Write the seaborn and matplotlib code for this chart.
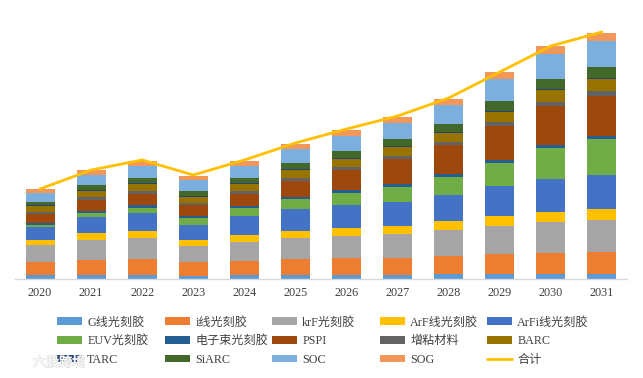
import matplotlib
matplotlib.use("Agg")
import matplotlib.pyplot as plt
import matplotlib.patheffects as pe
import numpy as np
import seaborn as sns

years = [str(y) for y in range(2020, 2032)]
g_line = [4, 4, 4, 3, 4, 4, 4, 4, 5, 5, 5, 5]
i_line = [13, 15, 16, 14.3, 14, 16.3, 17.3, 17.3, 18, 20, 21.3, 22]
krf = [16.7, 20, 21, 15.7, 19, 20.7, 21.7, 23.7, 26, 28, 30.7, 32]
arf = [5.3, 7, 7, 6, 7, 7, 8, 8, 9, 10, 10, 11]
arfi = [12.7, 16, 18, 15, 19, 21.7, 22.7, 24, 26, 30, 33, 34]
euv = [2.3, 4, 5, 7, 8, 10.3, 12.3, 15, 18, 23, 31, 35.7]
ebeam = [2.3, 2.3, 3, 2, 2.3, 2.3, 3, 3.3, 3, 3.3, 3.3, 3.3]
pspi = [8.7, 10.7, 11, 10.7, 11.7, 15.3, 20.3, 24.7, 29, 34, 38.3, 40]
adhesion = [2, 3, 3, 2.3, 3, 3, 2.7, 3, 3.3, 3.7, 4, 5]
barc = [6, 6, 7, 6, 7, 8.3, 7.7, 9, 8.3, 10, 12.3, 12]
tarc = [1, 0.7, 1, 1, 0.7, 0.7, 1, 0.7, 1, 1.3, 1, 0.7]
siarc = [3, 5.3, 5, 5, 5.3, 6.3, 7.3, 7.3, 8.3, 9.7, 10, 11.3]
soc = [9, 10, 12, 11, 12, 13.7, 15, 16, 18.7, 21.7, 25, 25.7]
sog = [4, 5, 5, 4, 5, 5.3, 6, 6, 6.3, 7.3, 8, 8.3]
total = [90, 109, 119, 104, 119, 136, 150, 163, 181, 207, 233, 247]

names = ["G线光刻胶", "i线光刻胶", "krF光刻胶", "ArF线光刻胶", "ArFi线光刻胶",
         "EUV光刻胶", "电子束光刻胶", "PSPI", "增粘材料", "BARC",
         "TARC", "SiARC", "SOC", "SOG"]
line_name = "合计"
series = [g_line, i_line, krf, arf, arfi, euv, ebeam, pspi, adhesion, barc,
          tarc, siarc, soc, sog]
colors = ["#5B9BD5", "#ED7D31", "#A5A5A5", "#FFC000", "#4472C4", "#70AD47",
          "#255E91", "#9E480E", "#636363", "#997300", "#264478", "#43682B",
          "#7CAFDD", "#F1975A"]

sns.set_theme(style="white")
plt.rcParams["font.family"] = ["Liberation Serif", "Noto Sans CJK SC", "DejaVu Sans"]

W, H = 643, 378
fig = plt.figure(figsize=(W / 100, H / 100), dpi=100)
ax = fig.add_axes([14.5 / W, (H - 279) / H, 613 / W, 264 / H])

bottom = np.zeros(len(years))
for name, vals, c in zip(names, series, colors):
    sns.barplot(x=years, y=vals, bottom=bottom, color=c, saturation=1,
                width=29 / 51.1, label=name, legend=False, errorbar=None, ax=ax,
                linewidth=0, edgecolor="none")
    bottom = bottom + np.array(vals)
sns.lineplot(x=years, y=total, color="#FFC000", lw=2.0, label=line_name,
             legend=False, errorbar=None, ax=ax, solid_capstyle="round")

ax.set_xlim(-0.5, 11.5)
ax.set_ylim(0, 264)
ax.set_yticks([])
ax.set_xlabel("")
ax.set_ylabel("")
for s in ["top", "left", "right"]:
    ax.spines[s].set_visible(False)
ax.spines["bottom"].set_color("#D9D9D9")
ax.spines["bottom"].set_linewidth(1)
ax.tick_params(axis="x", length=0, pad=6, labelsize=8.8, labelcolor="#404040")

handles, labels = ax.get_legend_handles_labels()
by_label = dict(zip(labels, handles))
order = names + [line_name]
handles = [by_label[n] for n in order]
labels = order
col_x = [57, 165, 272, 380, 487]
for i, x in enumerate(col_x):
    leg = fig.legend(handles[i::5], labels[i::5], loc="upper left",
                     bbox_to_anchor=(x / W, 1 - 316.5 / H),
                     frameon=False, ncol=1, fontsize=8.7, labelcolor="#404040",
                     handlelength=2.1, handleheight=0.6, handletextpad=0.4,
                     labelspacing=0.55, borderpad=0, borderaxespad=0)

fig.text(33 / W, 1 - 363 / H, "六股跨境", fontsize=9.4, color="white", va="center", ha="left",
         zorder=10, path_effects=[pe.withStroke(linewidth=0.7, foreground="#D8D8D8")])

fig.savefig("out.png", dpi=100)
